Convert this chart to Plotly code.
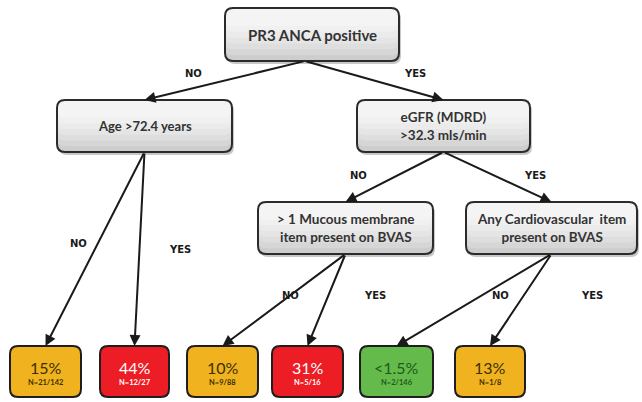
import plotly.graph_objects as go

# ---------------- data ----------------
node_texts = [
    "PR3 ANCA positive",
    "Age >72.4 years",
    "eGFR (MDRD)<br>>32.3 mls/min",
    "> 1 Mucous membrane<br>item present on BVAS",
    "Any Cardiovascular  item<br>present on BVAS",
]
leaf_pct = ["15%", "44%", "10%", "31%", "<1.5%", "13%"]
leaf_n = ["N=21/142", "N=12/27", "N=9/88", "N=5/16", "N=2/146", "N=1/8"]
leaf_risk = ["mid", "high", "mid", "high", "low", "mid"]
# edges: (parent node, child, branch label); child "Lk" = leaf k
edges = [
    (0, 1, "NO"), (0, 2, "YES"),
    (1, "L0", "NO"), (1, "L1", "YES"),
    (2, 3, "NO"), (2, 4, "YES"),
    (3, "L2", "NO"), (3, "L3", "YES"),
    (4, "L4", "NO"), (4, "L5", "YES"),
]

# ---------------- layout (pixel boxes) ----------------
node_boxes = [
    (225, 8, 399, 61),
    (57, 100, 232, 152),
    (357, 100, 530, 152),
    (258, 202, 433, 254),
    (466, 202, 637, 254),
]
node_font_size = [15, 13, 13.5, 13.5, 13.5]
leaf_x = [(10, 81), (100, 169), (187, 258), (272, 343), (360, 433), (455, 525)]
leaf_y = (346, 397)
label_pos = [(193, 73), (415, 73), (78, 243), (180, 249), (358, 175), (535, 175),
             (290, 295), (375, 295), (500, 295), (592, 295)]
root_apex_x = 305

risk_fill = {"mid": "rgb(241,178,32)", "high": "rgb(236,29,37)", "low": "rgb(100,186,74)"}
risk_text = {"mid": "#3a3000", "high": "#ffffff", "low": "#1f5a1a"}


def rr(x0, y0, x1, y1, r):
    return (f"M{x0+r},{y0} L{x1-r},{y0} Q{x1},{y0} {x1},{y0+r} L{x1},{y1-r} "
            f"Q{x1},{y1} {x1-r},{y1} L{x0+r},{y1} Q{x0},{y1} {x0},{y1-r} "
            f"L{x0},{y0+r} Q{x0},{y0} {x0+r},{y0} Z")


shapes = []
annotations = []


def box_geom(c):
    if isinstance(c, str):
        k = int(c[1:])
        return (leaf_x[k][0], leaf_y[0], leaf_x[k][1], leaf_y[1])
    return node_boxes[c]


# arrows
for i, (p, c, lab) in enumerate(edges):
    px0, py0, px1, py1 = box_geom(p)
    cx0, cy0, cx1, cy1 = box_geom(c)
    sx = root_apex_x if p == 0 else (px0 + px1) / 2
    annotations.append(dict(
        x=(cx0 + cx1) / 2, y=cy0, ax=sx, ay=py1,
        xref="x", yref="y", axref="x", ayref="y",
        showarrow=True, arrowhead=2, arrowsize=1.1, arrowwidth=2,
        arrowcolor="#1a1a1a", standoff=0, startstandoff=0, text=""))
    lx, ly = label_pos[i]
    annotations.append(dict(
        x=lx, y=ly, xref="x", yref="y", text=lab, showarrow=False,
        font=dict(family="DejaVu Sans", size=10, color="#1a1a1a", weight="bold")))

# decision nodes
grad = ["#cdcdcd", "#d6d6d6", "#dedede", "#e5e5e5", "#ebebeb", "#f0f0f0", "#f4f4f4"]
for (x0, y0, x1, y1), txt, fs in zip(node_boxes, node_texts, node_font_size):
    shapes.append(dict(type="path", path=rr(x0 + 2, y0 + 3, x1 + 2, y1 + 3, 8),
                       fillcolor="rgba(0,0,0,0.22)", line=dict(width=0), layer="below"))
    h = y1 - y0
    for j, col in enumerate(grad):
        frac = 1 - j * 0.11
        shapes.append(dict(type="path", path=rr(x0, y0, x1, y0 + h * frac, 8),
                           fillcolor=col, line=dict(width=0), layer="below"))
    shapes.append(dict(type="path", path=rr(x0, y0, x1, y1, 8),
                       fillcolor="rgba(0,0,0,0)", line=dict(color="#2b2b2b", width=2),
                       layer="below"))
    annotations.append(dict(
        x=(x0 + x1) / 2, y=(y0 + y1) / 2, xref="x", yref="y", text=txt,
        showarrow=False, align="center",
        font=dict(family="Lato", size=fs, color="#333333", weight="bold")))

# leaves
for k in range(len(leaf_pct)):
    x0, x1 = leaf_x[k]
    y0, y1 = leaf_y
    risk = leaf_risk[k]
    shapes.append(dict(type="path", path=rr(x0, y0, x1, y1, 8),
                       fillcolor=risk_fill[risk], line=dict(color="#1e1e1e", width=2),
                       layer="below"))
    annotations.append(dict(
        x=(x0 + x1) / 2, y=367, xref="x", yref="y", text=leaf_pct[k],
        showarrow=False, font=dict(family="Lato", size=16, color=risk_text[risk])))
    annotations.append(dict(
        x=(x0 + x1) / 2, y=382, xref="x", yref="y", text=leaf_n[k],
        showarrow=False, font=dict(family="Lato", size=7.5, color=risk_text[risk],
                                   weight="bold")))

fig = go.Figure(go.Scatter(x=[], y=[]))
fig.update_layout(
    width=642, height=402, margin=dict(l=0, r=0, t=0, b=0),
    paper_bgcolor="white", plot_bgcolor="white", showlegend=False,
    xaxis=dict(range=[0, 642], visible=False, fixedrange=True),
    yaxis=dict(range=[402, 0], visible=False, fixedrange=True),
    shapes=shapes, annotations=annotations,
)
fig.write_html("out.html", config={"displayModeBar": False},
               post_script="document.body.style.margin='0';document.body.style.overflow='hidden';")
